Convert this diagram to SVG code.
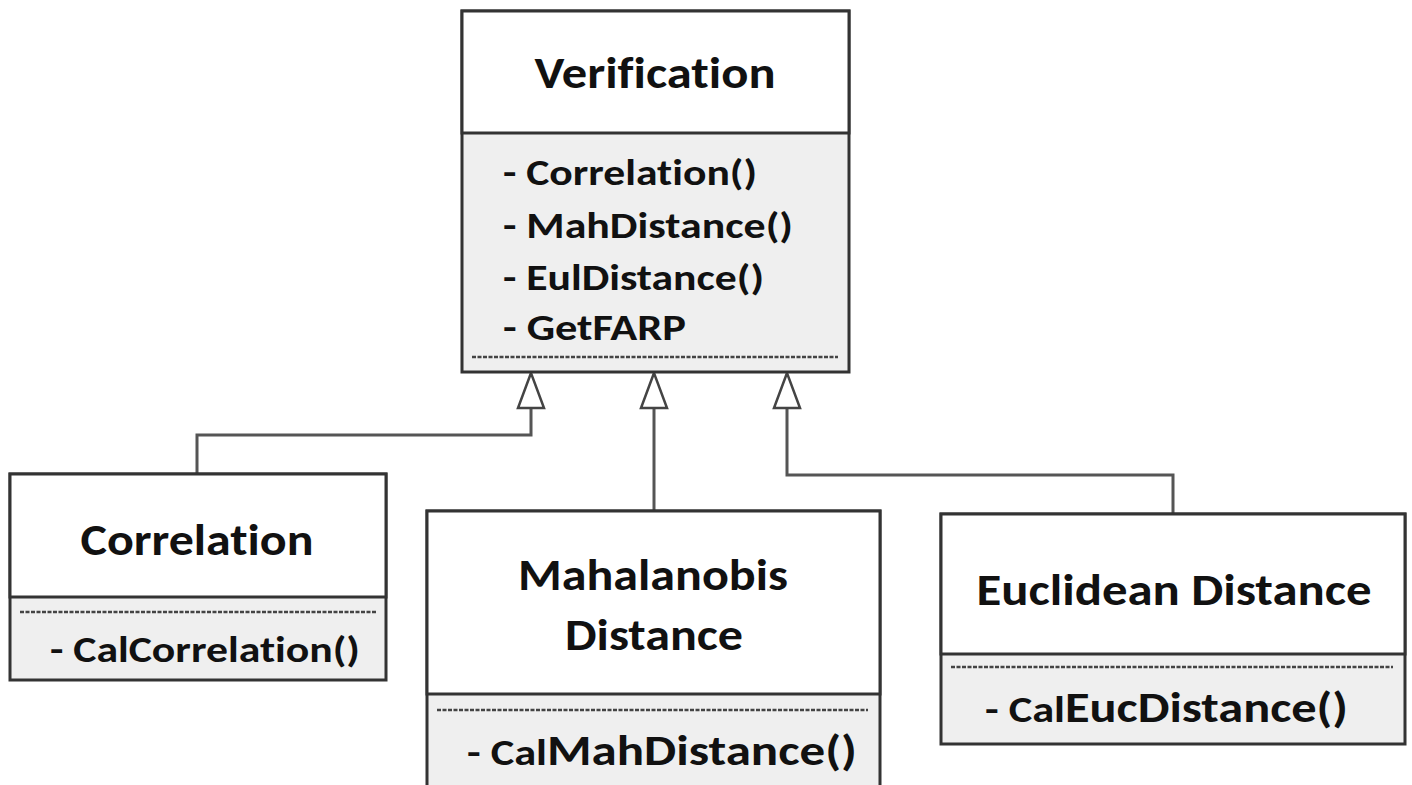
<svg xmlns="http://www.w3.org/2000/svg" width="1412" height="785" viewBox="0 0 1412 785">
  <defs>
    <style>
      .box { fill: #ffffff; stroke: #333333; stroke-width: 3; }
      .ops { fill: #efefef; stroke: #333333; stroke-width: 3; }
      .sep { stroke: #444444; stroke-width: 2.5; stroke-dasharray: 4 1.5; }
      .wire { fill: none; stroke: #555555; stroke-width: 3; }
      .head { fill: #ffffff; stroke: #444444; stroke-width: 2.5; stroke-linejoin: miter; }
      text { font-family: Carlito, Calibri, Lato, "Open Sans", sans-serif; font-weight: bold; fill: #111111; font-variant-ligatures: none; }
      .title { font-size: 44px; text-anchor: middle; }
      .op { font-size: 36px; }
    </style>
  </defs>

  <!-- generalisation connectors -->
  <g id="connectors">
    <polyline class="wire" points="197,474 197,435 531,435 531,408"/>
    <polyline class="wire" points="654,511 654,408"/>
    <polyline class="wire" points="1173,514 1173,475 787,475 787,408"/>
    <polygon class="head" points="531,373 518,408 544,408"/>
    <polygon class="head" points="654,373 641,408 667,408"/>
    <polygon class="head" points="787,373 774,408 800,408"/>
  </g>

  <!-- base class -->
  <g id="verification">
    <rect class="ops" x="462" y="11" width="387" height="361"/>
    <rect class="box" x="462" y="11" width="387" height="122"/>
    <text class="title" x="655" y="88" textLength="241" lengthAdjust="spacingAndGlyphs">Verification</text>
    <text class="op" x="503" y="185" textLength="254" lengthAdjust="spacingAndGlyphs">- Correlation()</text>
    <text class="op" x="503" y="238" textLength="290" lengthAdjust="spacingAndGlyphs">- MahDistance()</text>
    <text class="op" x="503" y="290" textLength="261" lengthAdjust="spacingAndGlyphs">- EulDistance()</text>
    <text class="op" x="503" y="340" textLength="183" lengthAdjust="spacingAndGlyphs">- GetFARP</text>
    <line class="sep" x1="472" y1="357" x2="838" y2="357"/>
  </g>

  <!-- subclasses -->
  <g id="correlation">
    <rect class="ops" x="10" y="474" width="376" height="206"/>
    <rect class="box" x="10" y="474" width="376" height="123"/>
    <text class="title" x="197" y="555" textLength="233" lengthAdjust="spacingAndGlyphs">Correlation</text>
    <line class="sep" x1="20" y1="612" x2="376" y2="612"/>
    <text class="op" x="50" y="662" textLength="310" lengthAdjust="spacingAndGlyphs">- CalCorrelation()</text>
  </g>

  <g id="mahalanobis">
    <rect class="ops" x="427" y="511" width="453" height="290"/>
    <rect class="box" x="427" y="511" width="453" height="183"/>
    <text class="title" x="653" y="590" textLength="270" lengthAdjust="spacingAndGlyphs">Mahalanobis</text>
    <text class="title" x="654" y="650" textLength="178" lengthAdjust="spacingAndGlyphs">Distance</text>
    <line class="sep" x1="437" y1="710" x2="868" y2="710"/>
    <text x="467" y="765"><tspan font-size="36" textLength="80" lengthAdjust="spacingAndGlyphs">- Cal</tspan><tspan font-size="42" textLength="310" lengthAdjust="spacingAndGlyphs">MahDistance()</tspan></text>
  </g>

  <g id="euclidean">
    <rect class="ops" x="941" y="514" width="464" height="230"/>
    <rect class="box" x="941" y="514" width="464" height="140"/>
    <text class="title" x="1174" y="605" textLength="395" lengthAdjust="spacingAndGlyphs">Euclidean Distance</text>
    <line class="sep" x1="951" y1="667" x2="1393" y2="667"/>
    <text x="985" y="722"><tspan font-size="36" textLength="80" lengthAdjust="spacingAndGlyphs">- Cal</tspan><tspan font-size="42" textLength="283" lengthAdjust="spacingAndGlyphs">EucDistance()</tspan></text>
  </g>
</svg>
